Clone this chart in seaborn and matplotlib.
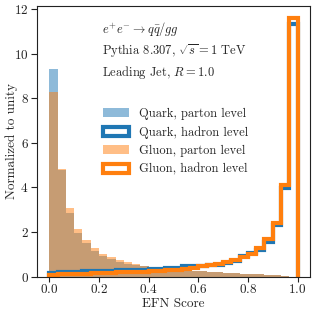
import numpy as np
import pandas as pd
import matplotlib
matplotlib.use("Agg")
import matplotlib.pyplot as plt
import seaborn as sns
from matplotlib.patches import Patch

# ---- data (bin heights, 30 bins on [0, 1]) ----
bin_edges = list(np.linspace(0.0, 1.0, 31))

quark_parton = [9.29, 4.78, 2.83, 1.94, 1.49, 1.14, 0.92, 0.77, 0.66, 0.58,
                0.50, 0.45, 0.40, 0.37, 0.34, 0.31, 0.28, 0.26, 0.23, 0.21,
                0.19, 0.17, 0.15, 0.13, 0.11, 0.09, 0.07, 0.05, 0.03, 0.00]
gluon_parton = [8.26, 4.82, 3.06, 2.13, 1.64, 1.29, 1.01, 0.86, 0.74, 0.65,
                0.56, 0.49, 0.43, 0.38, 0.35, 0.32, 0.29, 0.26, 0.24, 0.21,
                0.19, 0.17, 0.15, 0.13, 0.11, 0.09, 0.07, 0.05, 0.03, 0.00]
quark_hadron = [0.17, 0.20, 0.21, 0.22, 0.23, 0.24, 0.25, 0.26, 0.27, 0.28,
                0.30, 0.31, 0.33, 0.35, 0.37, 0.40, 0.47, 0.47, 0.47, 0.50,
                0.53, 0.60, 0.70, 0.93, 1.06, 1.19, 1.56, 2.33, 3.98, 11.31]
gluon_hadron = [0.08, 0.10, 0.11, 0.12, 0.13, 0.14, 0.15, 0.16, 0.18, 0.19,
                0.21, 0.22, 0.24, 0.26, 0.28, 0.31, 0.35, 0.40, 0.45, 0.52,
                0.56, 0.65, 0.74, 0.86, 1.01, 1.27, 1.67, 2.42, 4.12, 11.58]

labels = ["Quark, parton level", "Quark, hadron level",
          "Gluon, parton level", "Gluon, hadron level"]
x_ticks = [0.0, 0.2, 0.4, 0.6, 0.8, 1.0]
y_ticks = [0, 2, 4, 6, 8, 10, 12]

# ---- style ----
sns.set_style("ticks")
plt.rcParams.update({
    "font.family": "serif",
    "font.serif": ["cmr10", "DejaVu Serif"],
    "mathtext.fontset": "cm",
    "axes.formatter.use_mathtext": True,
    "axes.unicode_minus": False,
    "axes.edgecolor": "#222222",
    "xtick.color": "#222222",
    "ytick.color": "#222222",
})
FS = 9.5
FS_TXT = 9
FS_LEG = 9

fig = plt.figure(figsize=(3.16, 3.13), dpi=100)
ax = fig.add_axes([0.117, 0.1166, 0.864, 0.865])

centers = [0.5 * (a + b) for a, b in zip(bin_edges[:-1], bin_edges[1:])]
df = pd.DataFrame({"x": centers, "qp": quark_parton, "gp": gluon_parton})
blue = "#1f77b4"
orange = "#ff7f0e"

sns.histplot(data=df, x="x", weights="qp", bins=bin_edges, color=blue,
             alpha=0.5, linewidth=0, ax=ax)
sns.histplot(data=df, x="x", weights="gp", bins=bin_edges, color=orange,
             alpha=0.5, linewidth=0, ax=ax)
ax.hist(centers, bins=bin_edges, weights=quark_hadron, histtype="step",
        color=blue, linewidth=3)
ax.hist(centers, bins=bin_edges, weights=gluon_hadron, histtype="step",
        color=orange, linewidth=3)

ax.set_xlim(-0.05, 1.05)
ax.set_ylim(0, 12.15)
ax.set_xticks(x_ticks)
ax.set_yticks(y_ticks)
ax.tick_params(axis="y", labelsize=FS, length=4.5, width=0.8, pad=1.5)
ax.tick_params(axis="x", labelsize=FS, length=3.5, width=0.8, pad=1.5)
ax.set_xlabel("EFN Score", fontsize=FS, labelpad=1)
ax.set_ylabel("Normalized to unity", fontsize=FS)
ax.yaxis.set_label_coords(-0.07, 0.5)
for s in ax.spines.values():
    s.set_linewidth(0.8)

ax.text(0.238, 0.914, r"$e^{+}e^{-} \to q\bar{q}/gg$", transform=ax.transAxes,
        fontsize=FS_TXT, va="center", ha="left")
ax.text(0.238, 0.833, r"Pythia 8.307, $\sqrt{s} = 1$ TeV", transform=ax.transAxes,
        fontsize=FS_TXT, va="center", ha="left")
ax.text(0.238, 0.755, r"Leading Jet, $R = 1.0$", transform=ax.transAxes,
        fontsize=FS_TXT, va="center", ha="left")

handles = [
    Patch(facecolor=blue, alpha=0.5, linewidth=0),
    Patch(facecolor="none", edgecolor=blue, linewidth=3),
    Patch(facecolor=orange, alpha=0.5, linewidth=0),
    Patch(facecolor="none", edgecolor=orange, linewidth=3),
]
ax.legend(handles, labels, loc="upper left", bbox_to_anchor=(0.2, 0.665),
          frameon=False, fontsize=FS_LEG, handlelength=2.1, handleheight=0.7,
          labelspacing=0.5, handletextpad=0.8, borderpad=0.4)

fig.savefig("out.png", dpi=100)
